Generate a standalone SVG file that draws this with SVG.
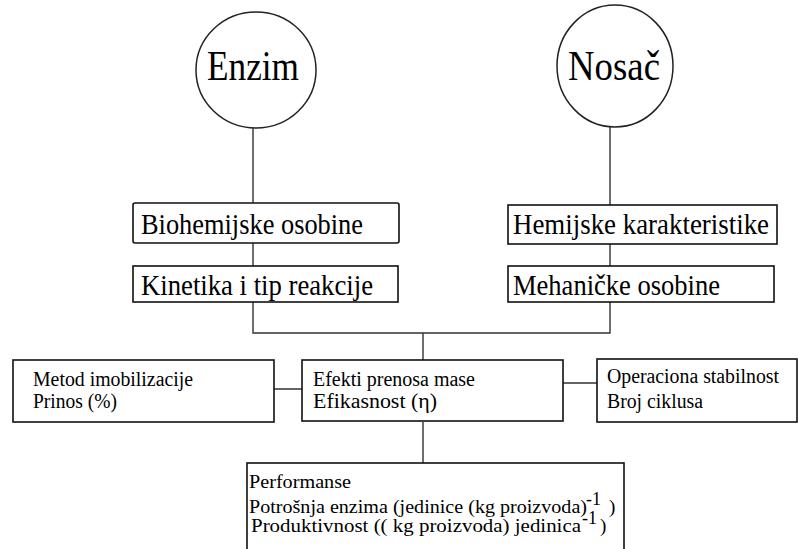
<svg xmlns="http://www.w3.org/2000/svg" width="798" height="549" viewBox="0 0 798 549">
<style>
text{font-family:'Liberation Serif','DejaVu Serif',serif;fill:#000}
.c{fill:#fff;stroke:#222;stroke-width:1.5}
.b{fill:#fff;stroke:#111;stroke-width:1.6}
.l{fill:none;stroke:#333;stroke-width:1.4}
.big{font-size:42px}
.med{font-size:30px}
.sm{font-size:20px}
.xs{font-size:19px}
.sup{font-size:18px}
</style>
<rect width="798" height="549" fill="#fff"/>
<g id="connectors">
<path class="l" d="M253 128V203M610 125V205M253 243V266M610 244V266M253 302V333H610V302M423 333V360M274 389H302M563 383H597M423 422V463"/>
</g>
<g id="enzim">
<ellipse class="c" cx="256" cy="70" rx="60" ry="58"/>
<text class="big" x="207" y="80" textLength="92" lengthAdjust="spacingAndGlyphs">Enzim</text>
</g>
<g id="nosac">
<ellipse class="c" cx="615" cy="66" rx="58" ry="61"/>
<text class="big" x="568" y="80" textLength="92" lengthAdjust="spacingAndGlyphs">Nosač</text>
</g>
<g id="biohemijske">
<rect class="b" x="133" y="203" width="266" height="40" rx="2"/>
<text class="med" x="141" y="234" textLength="222" lengthAdjust="spacingAndGlyphs">Biohemijske osobine</text>
</g>
<g id="kinetika">
<rect class="b" x="133" y="266" width="265" height="36"/>
<text class="med" x="141" y="295" textLength="232" lengthAdjust="spacingAndGlyphs">Kinetika i tip reakcije</text>
</g>
<g id="hemijske">
<rect class="b" x="508" y="205" width="269" height="39"/>
<text class="med" x="513" y="234" textLength="256" lengthAdjust="spacingAndGlyphs">Hemijske karakteristike</text>
</g>
<g id="mehanicke">
<rect class="b" x="508" y="266" width="266" height="36"/>
<text class="med" x="513" y="295" textLength="207" lengthAdjust="spacingAndGlyphs">Mehaničke osobine</text>
</g>
<g id="metod">
<rect class="b" x="13" y="360" width="261" height="62"/>
<text class="sm" x="33" y="386" textLength="160" lengthAdjust="spacingAndGlyphs">Metod imobilizacije</text>
<text class="sm" x="33" y="408" textLength="84" lengthAdjust="spacingAndGlyphs">Prinos (%)</text>
</g>
<g id="efekti">
<rect class="b" x="302" y="360" width="261" height="61"/>
<text class="sm" x="313" y="386" textLength="162" lengthAdjust="spacingAndGlyphs">Efekti prenosa mase</text>
<text class="sm" x="313" y="408" textLength="124" lengthAdjust="spacingAndGlyphs">Efikasnost (η)</text>
</g>
<g id="operaciona">
<rect class="b" x="597" y="359" width="200" height="63"/>
<text class="sm" x="607" y="383" textLength="172" lengthAdjust="spacingAndGlyphs">Operaciona stabilnost</text>
<text class="sm" x="607" y="408" textLength="96" lengthAdjust="spacingAndGlyphs">Broj ciklusa</text>
</g>
<g id="performanse">
<rect class="b" x="247" y="463" width="377" height="100"/>
<text class="xs" x="249" y="488" textLength="102" lengthAdjust="spacingAndGlyphs">Performanse</text>
<text class="xs" x="249" y="513" textLength="338" lengthAdjust="spacingAndGlyphs">Potrošnja enzima (jedinice (kg proizvoda)</text>
<text class="sup" x="586" y="505">-1</text>
<text class="xs" x="609" y="513">)</text>
<text class="xs" x="251" y="532" textLength="330" lengthAdjust="spacingAndGlyphs">Produktivnost (( kg proizvoda) jedinica</text>
<text class="sup" x="582" y="524">-1</text>
<text class="xs" x="600" y="532">)</text>
</g>
</svg>
